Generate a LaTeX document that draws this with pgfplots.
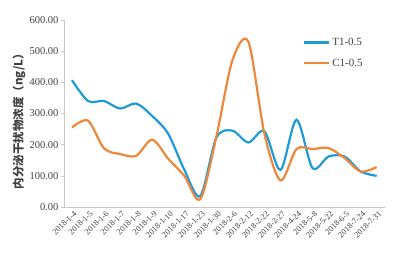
\documentclass[border=0pt]{standalone}
\usepackage{pgfplots}
\pgfplotsset{compat=1.18}
\usepackage{fontspec}
\setmainfont{Liberation Serif}
\newfontfamily\cjk{Noto Sans CJK SC}
\definecolor{tblue}{RGB}{30,155,215}
\definecolor{corange}{RGB}{237,135,60}
\definecolor{axgray}{RGB}{200,200,200}
\begin{document}
\begin{tikzpicture}
\useasboundingbox (-72bp,-54bp) rectangle (333bp,207bp);
\begin{axis}[
  at={(0,0)}, anchor=origin,
  scale only axis,
  width=320.7bp, height=187bp,
  xmin=-0.5, xmax=19.5,
  ymin=0, ymax=600,
  ytick={0,100,...,600},
  axis x line*=bottom, axis y line*=left,
  axis line style={axgray, line width=0.6bp},
  tick style={axgray, line width=0.6bp},
  tick align=outside,
  major tick length=3bp,
  /pgf/number format/assume math mode=true,
  yticklabel style={font=\fontsize{10.5bp}{12bp}\selectfont, text=black!75, /pgf/number format/fixed, /pgf/number format/fixed zerofill, /pgf/number format/precision=2, xshift=1bp},
  xtick={0,...,19},
  xticklabels={2018-1-4,2018-1-5,2018-1-6,2018-1-7,2018-1-8,2018-1-9,2018-1-10,2018-1-17,2018-1-23,2018-1-30,2018-2-6,2018-2-12,2018-2-22,2018-2-27,2018-4-24,2018-5-8,2018-5-22,2018-6-5,2018-7-24,2018-7-31},
  xticklabel style={font=\fontsize{8.3bp}{9bp}\selectfont, text=black!75, rotate=45, anchor=north east, inner sep=1bp, xshift=2bp},
  x tick style={draw=none},
  extra x ticks={-0.5,0.5,...,19.5},
  extra x tick labels={},
  extra x tick style={tick style={axgray, line width=0.6bp}, major tick length=4bp},
  ylabel={\cjk\bfseries 内分泌干扰物浓度（ng/L）},
  ylabel style={at={(rel axis cs:0,0.5)}, yshift=45bp, xshift=-5bp, anchor=center, font=\fontsize{11.5bp}{13bp}\selectfont, text=black!75},
  legend style={draw=none, fill=none, at={(rel axis cs:0.745,0.915)}, anchor=north west, font=\fontsize{11bp}{13bp}\selectfont, text=black!75, row sep=8bp, inner sep=0bp},
  legend cell align=left,
  legend image code/.code={\draw[#1] (0bp,0bp) -- (25bp,0bp);},
]
\addplot[tblue, line width=2.2bp, smooth, tension=0.5] coordinates {
(0,407) (1,340) (2,340) (3,316) (4,332) (5,292) (6,235) (7,120) (8,35) (9,222) (10,245) (11,207) (12,243) (13,119) (14,280) (15,125) (16,162) (17,162) (18,114) (19,100)};
\addlegendentry{T1-0.5}
\addplot[corange, line width=2.2bp, smooth, tension=0.5] coordinates {
(0,255) (1,277) (2,188) (3,170) (4,164) (5,216) (6,155) (7,100) (8,25) (9,225) (10,470) (11,530) (12,235) (13,85) (14,186) (15,186) (16,189) (17,157) (18,114) (19,128)};
\addlegendentry{C1-0.5}
\end{axis}
\end{tikzpicture}
\end{document}
